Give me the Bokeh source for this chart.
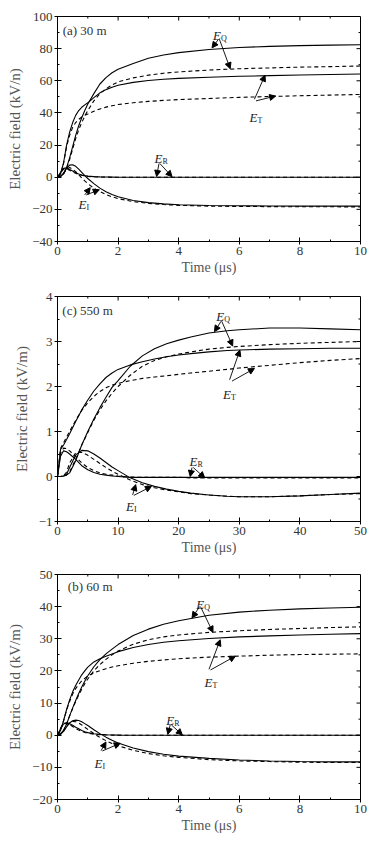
import math
from bokeh.plotting import figure
from bokeh.models import (Range1d, LinearAxis, SingleIntervalTicker, Arrow,
                          NormalHead, ColumnDataSource)
from bokeh.layouts import column
from bokeh.embed import file_html
from bokeh.resources import INLINE
from bokeh.core.properties import value

FONT = "Liberation Serif"

# ---------------- panel (a) 30 m ----------------
t_a = [0, 0.1, 0.2, 0.3, 0.4, 0.5, 0.6, 0.7, 0.8, 0.9, 1.0, 1.2, 1.4, 1.6, 1.8,
       2.0, 2.5, 3.0, 3.5, 4.0, 5.0, 6.0, 7.0, 8.0, 9.0, 10.0]
a_EQ_solid = [0, 0.5, 2, 6, 12, 19, 26, 32, 37, 41.5, 45.5, 52, 58, 62, 65,
              67.2, 70.8, 74, 76, 77.5, 79.5, 80.7, 81.4, 81.9, 82.2, 82.4]
a_EQ_dash = [0, 0.5, 2, 5.5, 11, 17.5, 24, 29.5, 34, 38, 41.5, 47.5, 52, 55, 57.5,
             59.3, 61.8, 63.5, 64.7, 65.5, 66.7, 67.5, 68, 68.5, 68.8, 69.2]
a_ET_solid = [0, 2, 9, 20, 28, 34, 38.5, 41.5, 43.5, 45, 46.3, 49.5, 52.5, 54.5, 56,
              57.2, 59, 60.2, 61, 61.5, 62.2, 62.8, 63.2, 63.6, 63.9, 64.2]
a_ET_dash = [0, 2, 8.5, 19, 26, 31, 34, 36, 37.5, 38.5, 39.3, 41, 42.5, 43.6, 44.5,
             45.2, 46.3, 47.2, 47.8, 48.3, 49, 49.7, 50.2, 50.7, 51.1, 51.5]
a_ER_solid = [0, 3, 5.5, 5.8, 4.8, 3.8, 2.8, 2, 1.4, 1, 0.7, 0.35, 0.2, 0.1, 0.05,
              0, 0, 0, 0, 0, 0, 0, 0, 0, 0, 0]
a_ER_dash = [0, 2.8, 5, 5.2, 4.3, 3.3, 2.4, 1.7, 1.2, 0.8, 0.5, 0.25, 0.1, 0.05, 0,
             0, 0, 0, 0, 0, 0, 0, 0, 0, 0, 0]
a_EI_solid = [0, 0.5, 2.5, 5.5, 7.5, 7.8, 6.8, 5, 3, 1, -0.8, -4, -6.8, -9, -10.8,
              -12.2, -14.5, -15.8, -16.6, -17.1, -17.6, -17.8, -17.9, -18, -18, -18]
a_EI_dash = [0, 0.5, 2.5, 5, 6, 5, 3.5, 1.5, -0.5, -2.3, -4, -6.8, -9, -10.8, -12.2,
             -13.3, -15.2, -16.3, -17, -17.5, -18, -18.2, -18.3, -18.4, -18.4, -18.5]
a_lab_x = [5.13, 6.34, 3.2, 0.69]
a_lab_y = [88.4, 37.3, 11.5, -17.0]
a_lab_sub = ["Q", "T", "R", "I"]
a_arr_x0 = [5.3, 5.35, 6.5, 6.55, 3.35, 3.38, 0.9, 0.95]
a_arr_y0 = [85.5, 85.5, 48.5, 47.5, 8.5, 8.5, -11, -11]
a_arr_x1 = [5.1, 5.7, 6.85, 7.2, 3.27, 3.78, 1.08, 1.38]
a_arr_y1 = [80.5, 67.5, 63.5, 50.5, 0.5, 0.3, -6.5, -7.8]
a_xmajor = [2, 4, 6, 8]
a_xminor = [1, 3, 5, 7, 9]
a_ymajor = [-20, 0, 20, 40, 60, 80]
a_yminor = [-30, -10, 10, 30, 50, 70, 90]

# ---------------- panel (c) 550 m ----------------
t_c = [0, 0.5, 1, 1.5, 2, 3, 4, 5, 6, 7, 8, 9, 10, 12, 14, 16, 18, 20, 22, 25,
       28, 30, 35, 40, 45, 50]
c_EQ_solid = [0, 0, 0.01, 0.03, 0.08, 0.35, 0.7, 1.0, 1.28, 1.53, 1.76, 1.98, 2.13,
              2.45, 2.68, 2.84, 2.95, 3.03, 3.1, 3.19, 3.24, 3.26, 3.3, 3.3, 3.28, 3.26]
c_EQ_dash = [0, 0, 0.01, 0.04, 0.1, 0.38, 0.7, 0.98, 1.25, 1.48, 1.68, 1.85, 2.0,
             2.25, 2.45, 2.58, 2.66, 2.72, 2.77, 2.83, 2.87, 2.89, 2.93, 2.96, 2.98, 3.0]
c_ET_solid = [0, 0.6, 0.7, 0.82, 0.95, 1.22, 1.48, 1.7, 1.9, 2.06, 2.2, 2.3, 2.38,
              2.48, 2.55, 2.61, 2.66, 2.7, 2.73, 2.77, 2.8, 2.81, 2.83, 2.84, 2.85, 2.85]
c_ET_dash = [0, 0.62, 0.75, 0.88, 1.0, 1.25, 1.47, 1.64, 1.78, 1.89, 1.97, 2.03, 2.07,
             2.13, 2.18, 2.21, 2.24, 2.27, 2.3, 2.34, 2.38, 2.41, 2.47, 2.53, 2.58, 2.62]
c_ER_solid = [0, 0.45, 0.57, 0.55, 0.5, 0.38, 0.24, 0.15, 0.09, 0.05, 0.03, 0.01, 0,
              -0.02, -0.02, -0.02, -0.02, -0.02, -0.02, -0.02, -0.02, -0.02, -0.02,
              -0.02, -0.02, -0.02]
c_ER_dash = [0, 0.52, 0.63, 0.62, 0.57, 0.44, 0.3, 0.2, 0.13, 0.08, 0.05, 0.03, 0.01,
             -0.01, -0.02, -0.02, -0.02, -0.02, -0.03, -0.03, -0.03, -0.03, -0.03,
             -0.03, -0.03, -0.03]
c_EI_solid = [0, 0, 0.01, 0.05, 0.2, 0.48, 0.58, 0.57, 0.5, 0.41, 0.31, 0.21, 0.13,
              -0.03, -0.14, -0.22, -0.28, -0.33, -0.37, -0.41, -0.44, -0.45, -0.45,
              -0.43, -0.4, -0.37]
c_EI_dash = [0, 0, 0.02, 0.1, 0.3, 0.53, 0.54, 0.47, 0.38, 0.29, 0.2, 0.12, 0.05,
             -0.08, -0.18, -0.25, -0.3, -0.34, -0.38, -0.41, -0.44, -0.45, -0.45,
             -0.43, -0.4, -0.38]
c_lab_x = [26.2, 27.3, 21.8, 11.3]
c_lab_y = [3.55, 1.83, 0.33, -0.67]
c_lab_sub = ["Q", "T", "R", "I"]
c_arr_x0 = [27.0, 27.1, 28.4, 28.8, 22.2, 22.4, 12.4, 12.6]
c_arr_y0 = [3.45, 3.45, 2.15, 2.12, 0.2, 0.2, -0.41, -0.42]
c_arr_x1 = [25.9, 28.9, 30.1, 32.5, 21.9, 24.3, 12.9, 15.5]
c_arr_y1 = [3.22, 2.9, 2.81, 2.4, 0.0, -0.03, -0.18, -0.22]
c_xmajor = [10, 20, 30, 40]
c_xminor = [5, 15, 25, 35, 45]
c_ymajor = [0, 1, 2, 3]
c_yminor = [-0.5, 0.5, 1.5, 2.5, 3.5]

# ---------------- panel (b) 60 m ----------------
t_b = [0, 0.1, 0.2, 0.3, 0.4, 0.5, 0.6, 0.7, 0.8, 0.9, 1.0, 1.2, 1.4, 1.6, 1.8,
       2.0, 2.5, 3.0, 3.5, 4.0, 5.0, 6.0, 7.0, 8.0, 9.0, 10.0]
b_EQ_solid = [0, 0.5, 1.5, 3.5, 6, 8.5, 10.8, 13, 15, 16.8, 18.5, 21.3, 23.5, 25.3,
              26.8, 28.2, 31, 33, 34.5, 35.6, 37.3, 38.3, 38.9, 39.3, 39.6, 39.8]
b_EQ_dash = [0, 0.5, 1.5, 3.5, 6, 8.3, 10.5, 12.5, 14.3, 16, 17.5, 20, 22, 23.6, 25,
             26.2, 28.3, 29.7, 30.6, 31.2, 32, 32.5, 32.9, 33.2, 33.5, 33.7]
b_ET_solid = [0, 1.5, 4.5, 8, 11, 13.5, 15.5, 17.2, 18.8, 20, 21.2, 22.8, 23.8, 24.6,
              25.3, 26, 27.3, 28.2, 28.9, 29.4, 30.1, 30.6, 30.9, 31.2, 31.4, 31.6]
b_ET_dash = [0, 1.5, 4.5, 7.8, 10.5, 12.8, 14.5, 15.8, 16.9, 17.7, 18.4, 19.4, 20.1,
             20.7, 21.2, 21.6, 22.4, 23, 23.4, 23.8, 24.3, 24.6, 24.9, 25.1, 25.2, 25.3]
b_ER_solid = [0, 2, 3.5, 3.9, 3.6, 3.1, 2.5, 2, 1.5, 1.1, 0.8, 0.45, 0.25, 0.15, 0.08,
              0.04, 0, 0, 0, 0, 0, 0, 0, 0, 0, 0]
b_ER_dash = [0, 2.2, 3.7, 3.8, 3.3, 2.7, 2.1, 1.6, 1.2, 0.85, 0.6, 0.3, 0.15, 0.08,
             0.04, 0.02, 0, 0, 0, 0, 0, 0, 0, 0, 0, 0]
b_EI_solid = [0, 0.3, 1.2, 2.6, 3.8, 4.5, 4.7, 4.6, 4.2, 3.6, 3, 1.7, 0.5, -0.6, -1.6,
              -2.4, -4, -5.1, -5.9, -6.5, -7.2, -7.7, -8, -8.2, -8.3, -8.3]
b_EI_dash = [0, 0.3, 1.3, 2.8, 3.9, 4.3, 4.2, 3.8, 3.2, 2.5, 1.8, 0.5, -0.7, -1.7,
             -2.6, -3.3, -4.7, -5.7, -6.4, -6.9, -7.6, -8, -8.2, -8.4, -8.5, -8.5]
b_lab_x = [4.58, 4.85, 3.59, 1.22]
b_lab_y = [40.8, 16.5, 4.6, -8.8]
b_lab_sub = ["Q", "T", "R", "I"]
b_arr_x0 = [4.69, 4.72, 5.0, 5.05, 3.72, 3.76, 1.44, 1.48]
b_arr_y0 = [40.0, 40.0, 20.5, 20.3, 3.2, 3.2, -4.8, -4.9]
b_arr_x1 = [4.44, 5.13, 5.37, 5.87, 3.64, 4.12, 1.6, 2.07]
b_arr_y1 = [36.5, 32.0, 29.7, 24.6, 0.3, 0.1, -2.1, -2.5]
b_xmajor = [2, 4, 6, 8]
b_xminor = [1, 3, 5, 7, 9]
b_ymajor = [-10, 0, 10, 20, 30, 40]
b_yminor = [-15, -5, 5, 15, 25, 35, 45]

titles = ["(a) 30 m", "(c) 550 m", "(b) 60 m"]
ylabels = ["Electric field (kV/n)", "Electric field (kV/m)", "Electric field (kV/m)"]


def make_panel(t, solids, dashes, xr, yr, xint, yint, title, tx, ty, ylabel,
               lab_x, lab_y, lab_sub, ax0, ay0, ax1, ay1, bottom_border,
               xmaj, xmin, ymaj, ymin):
    p = figure(frame_width=303, frame_height=225, output_backend="svg",
               toolbar_location=None, x_range=Range1d(*xr), y_range=Range1d(*yr),
               min_border_left=57, min_border_right=11, min_border_top=16,
               min_border_bottom=bottom_border, x_axis_type=None, y_axis_type=None)
    p.grid.visible = False
    p.outline_line_color = "black"
    p.outline_line_width = 1
    p.background_fill_color = "white"
    p.border_fill_color = "white"

    def style(ax):
        ax.axis_line_color = "black"
        ax.axis_line_width = 1
        ax.major_tick_line_color = "black"
        ax.minor_tick_line_color = "black"
        ax.major_tick_in = 4
        ax.major_tick_out = 3
        ax.minor_tick_in = 2
        ax.minor_tick_out = 0
        ax.major_label_text_font = FONT
        ax.major_label_text_font_size = "13px"
        ax.major_label_text_color = "#333333"
        ax.major_label_standoff = 2
        ax.axis_label_text_font = FONT
        ax.axis_label_text_font_style = "normal"
        ax.axis_label_text_color = "#555555"

    xa = LinearAxis(ticker=SingleIntervalTicker(interval=xint, num_minor_ticks=2))
    style(xa)
    xa.axis_label = "Time (μs)"
    xa.axis_label_text_font_size = "14px"
    xa.axis_label_standoff = 2
    p.add_layout(xa, "below")

    ya = LinearAxis(ticker=SingleIntervalTicker(interval=yint, num_minor_ticks=2))
    style(ya)
    ya.axis_label = ylabel
    ya.axis_label_text_font_size = "15px"
    ya.axis_label_standoff = 6
    p.add_layout(ya, "left")

    # mirrored inward ticks on top and right edges
    x_top, y_top = xr[1], yr[1]
    p.ray(x=xmaj, y=[y_top] * len(xmaj), length=4, length_units="screen",
          angle=-math.pi / 2, line_color="black", line_width=1)
    p.ray(x=xmin, y=[y_top] * len(xmin), length=2, length_units="screen",
          angle=-math.pi / 2, line_color="black", line_width=1)
    p.ray(x=[x_top] * len(ymaj), y=ymaj, length=4, length_units="screen",
          angle=math.pi, line_color="black", line_width=1)
    p.ray(x=[x_top] * len(ymin), y=ymin, length=2, length_units="screen",
          angle=math.pi, line_color="black", line_width=1)

    for ys in solids:
        p.line(t, ys, line_color="black", line_width=1.1)
    for ys in dashes:
        p.line(t, ys, line_color="black", line_width=1.1, line_dash="4 3")

    for i in range(len(ax0)):
        p.add_layout(Arrow(end=NormalHead(size=6, fill_color="black",
                                          line_color="black", line_width=1),
                           x_start=ax0[i], y_start=ay0[i], x_end=ax1[i], y_end=ay1[i],
                           line_color="black", line_width=0.9))

    src = ColumnDataSource(dict(x=lab_x, y=lab_y, sub=lab_sub,
                                e=["E"] * len(lab_x)))
    p.text(x="x", y="y", text="e", source=src, text_font=value(FONT),
           text_font_style="italic", text_font_size="13px", text_color="#222222",
           text_baseline="alphabetic", text_align="left")
    p.text(x="x", y="y", text="sub", source=src, text_font=value(FONT),
           text_font_size="8px", text_color="#222222", x_offset=8, y_offset=3,
           text_baseline="alphabetic", text_align="left")

    p.text(x=[tx], y=[ty], text=[title], text_font=value(FONT),
           text_font_size="13px", text_color="#333333", text_baseline="middle",
           text_align="left")
    return p


pa = make_panel(t_a, [a_EQ_solid, a_ET_solid, a_ER_solid, a_EI_solid],
                [a_EQ_dash, a_ET_dash, a_ER_dash, a_EI_dash],
                (0, 10), (-40, 100), 2, 20, titles[0], 0.17, 91.5, ylabels[0],
                a_lab_x, a_lab_y, a_lab_sub, a_arr_x0, a_arr_y0, a_arr_x1, a_arr_y1, 39,
                a_xmajor, a_xminor, a_ymajor, a_yminor)
pc = make_panel(t_c, [c_EQ_solid, c_ET_solid, c_ER_solid, c_EI_solid],
                [c_EQ_dash, c_ET_dash, c_ER_dash, c_EI_dash],
                (0, 50), (-1, 4), 10, 1, titles[1], 0.8, 3.69, ylabels[1],
                c_lab_x, c_lab_y, c_lab_sub, c_arr_x0, c_arr_y0, c_arr_x1, c_arr_y1, 37,
                c_xmajor, c_xminor, c_ymajor, c_yminor)
pb = make_panel(t_b, [b_EQ_solid, b_ET_solid, b_ER_solid, b_EI_solid],
                [b_EQ_dash, b_ET_dash, b_ER_dash, b_EI_dash],
                (0, 10), (-20, 50), 2, 10, titles[2], 0.34, 46.3, ylabels[2],
                b_lab_x, b_lab_y, b_lab_sub, b_arr_x0, b_arr_y0, b_arr_x1, b_arr_y1, 36,
                b_xmajor, b_xminor, b_ymajor, b_yminor)

layout = column(pa, pc, pb, spacing=0)
open("out.html", "w").write(file_html(layout, INLINE))
